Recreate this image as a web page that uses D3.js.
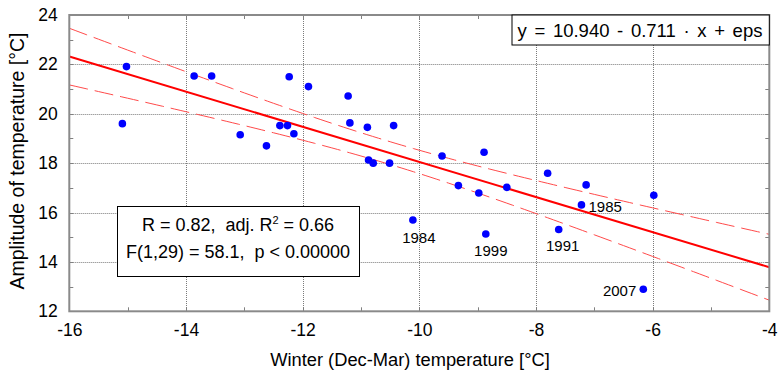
<!DOCTYPE html>
<html>
<head>
<meta charset="utf-8">
<script src="https://cdn.jsdelivr.net/npm/d3@7"></script>
<style>
	body { margin: 0; background: #fff; }
	text { font-family: "Liberation Sans", Arial, sans-serif; fill: #000; white-space: pre; }
</style>
</head>
<body>
<svg id="chart" width="778" height="374"></svg>
<script>

	// winter (Dec-Mar) temperature vs yearly amplitude, 31 years
	var winterTemp = [-15.09, -15.02, -13.86, -13.56, -13.07, -12.62, -12.39, -12.26, -12.23, -12.15,
		-11.90, -11.22, -11.19, -10.89, -10.87, -10.79, -10.51, -10.44, -10.11, -9.61,
		-9.33, -8.98, -8.89, -8.86, -8.50, -7.80, -7.61, -7.22, -7.14, -6.16, -5.98];
	var amplitude = [19.60, 21.91, 21.53, 21.53, 19.15, 18.70, 19.52, 19.52, 21.50, 19.19,
		21.10, 20.72, 19.63, 19.45, 18.13, 18.00, 18.00, 19.52, 15.70, 18.29,
		17.09, 16.79, 18.44, 15.13, 17.02, 17.59, 15.31, 16.31, 17.12, 12.89, 16.70];
	var years = ["", "", "", "", "", "", "", "", "", "",
		"", "", "", "", "", "", "", "", "1984", "",
		"", "", "", "1999", "", "", "1991", "1985", "", "2007", ""];

	var intercept = 10.940;
	var slope = -0.711;
	var xTicks = [-16, -14, -12, -10, -8, -6, -4];
	var yTicks = [12, 14, 16, 18, 20, 22, 24];
	var eqText = "y = 10.940 - 0.711 · x + eps";
	var statLine1 = ["R = 0.82,  adj. R", "2", " = 0.66"];
	var statLine2 = "F(1,29) = 58.1,  p < 0.00000";
	var xTitle = "Winter (Dec-Mar) temperature [°C]";
	var yTitle = "Amplitude of temperature [°C]";

	var pL = 69.3, pR = 769.3, pT = 15, pB = 311.3;
	var pW = pR - pL, pH = pB - pT;

	var svg = d3.select("#chart");

	var x = d3.scaleLinear().domain([-16, -4]).range([pL, pR]);
	var y = d3.scaleLinear().domain([12, 24]).range([pB, pT]);

	svg.append("clipPath").attr("id", "plotclip")
		.append("rect").attr("x", pL).attr("y", pT).attr("width", pW).attr("height", pH);

	// dotted grid
	var grid = svg.append("g").attr("class", "grid");
	grid.selectAll(".gx").data(xTicks.slice(1, -1)).enter().append("line")
		.attr("x1", function (d) { return Math.round(x(d)) + 0.5; })
		.attr("x2", function (d) { return Math.round(x(d)) + 0.5; })
		.attr("y1", pT).attr("y2", pB);
	grid.selectAll(".gy").data(yTicks.slice(1, -1)).enter().append("line")
		.attr("y1", function (d) { return Math.round(y(d)) + 0.5; })
		.attr("y2", function (d) { return Math.round(y(d)) + 0.5; })
		.attr("x1", pL).attr("x2", pR);
	grid.selectAll("line").attr("stroke", "#7a7a7a").attr("stroke-width", 1).attr("stroke-dasharray", "1,1");

	// inward ticks on every integer, all four sides
	var ticks = svg.append("g").attr("stroke", "#808080").attr("stroke-width", 1);
	d3.range(-15, -4).forEach(function (v) {
		var px = Math.round(x(v)) + 0.5;
		ticks.append("line").attr("x1", px).attr("x2", px).attr("y1", pB).attr("y2", pB - 4);
		ticks.append("line").attr("x1", px).attr("x2", px).attr("y1", pT).attr("y2", pT + 4);
	});
	d3.range(13, 24).forEach(function (v) {
		var py = Math.round(y(v)) + 0.5;
		ticks.append("line").attr("y1", py).attr("y2", py).attr("x1", pL).attr("x2", pL + 4);
		ticks.append("line").attr("y1", py).attr("y2", py).attr("x1", pR).attr("x2", pR - 4);
	});

	// confidence band for the fitted line (computed from the points)
	var n = winterTemp.length;
	var xbar = d3.mean(winterTemp);
	var sxx = d3.sum(winterTemp, function (v) { return (v - xbar) * (v - xbar); });
	var sse = d3.sum(winterTemp, function (v, i) {
		var r = amplitude[i] - (intercept + slope * v);
		return r * r;
	});
	var s = Math.sqrt(sse / (n - 2));
	var tcrit = 2.045;
	function half(v) { return tcrit * s * Math.sqrt(1 / n + (v - xbar) * (v - xbar) / sxx); }

	var xs = d3.range(-16, -3.99, 0.1);
	var plot = svg.append("g").attr("clip-path", "url(#plotclip)");

	var line = d3.line().x(function (d) { return x(d[0]); }).y(function (d) { return y(d[1]); });
	[1, -1].forEach(function (sign) {
		plot.append("path")
			.attr("d", line(xs.map(function (v) { return [v, intercept + slope * v + sign * half(v)]; })))
			.attr("fill", "none").attr("stroke", "#ff4a4a").attr("stroke-width", 1)
			.attr("stroke-dasharray", "19,7");
	});
	plot.append("path")
		.attr("d", line([[-16, intercept + slope * -16], [-4, intercept + slope * -4]]))
		.attr("fill", "none").attr("stroke", "#ff0000").attr("stroke-width", 2);

	// points
	plot.selectAll(".pt").data(winterTemp).enter().append("circle")
		.attr("class", "pt")
		.attr("cx", function (d) { return x(d); })
		.attr("cy", function (d, i) { return y(amplitude[i]); })
		.attr("r", 3.8)
		.attr("fill", "#0000ff");

	// year labels
	var placement = {
		"1984": [6, 23, "middle"],
		"1999": [5, 22, "middle"],
		"1991": [4, 21, "middle"],
		"1985": [7, 7, "start"],
		"2007": [-7, 7, "end"]
	};
	winterTemp.forEach(function (v, i) {
		if (!years[i]) return;
		var p = placement[years[i]];
		svg.append("text")
			.attr("x", x(v) + p[0]).attr("y", y(amplitude[i]) + p[1])
			.attr("text-anchor", p[2]).attr("font-size", 15)
			.text(years[i]);
	});

	// frame
	svg.append("rect").attr("x", pL).attr("y", pT).attr("width", pW).attr("height", pH)
		.attr("fill", "none").attr("stroke", "#8a8a8a").attr("stroke-width", 2);

	// axes labels
	var fmt = function (d) { return String(d); };
	var xAxis = d3.axisBottom(x).tickValues(xTicks).tickFormat(fmt).tickSize(0).tickPadding(12.7);
	var gx = svg.append("g").attr("transform", "translate(0," + pB + ")").call(xAxis);
	var yAxis = d3.axisLeft(y).tickValues(yTicks).tickFormat(fmt).tickSize(0).tickPadding(11.5);
	var gy = svg.append("g").attr("transform", "translate(" + pL + ",0)").call(yAxis);
	[gx, gy].forEach(function (g) {
		g.select(".domain").remove();
		g.selectAll("text").attr("font-size", 17.5).attr("font-family", null).attr("fill", "#000");
	});

	svg.append("text").attr("x", 410).attr("y", 366).attr("text-anchor", "middle")
		.attr("font-size", 18.3).text(xTitle);
	svg.append("text").attr("transform", "translate(24,161) rotate(-90)").attr("text-anchor", "middle")
		.attr("font-size", 19.5).text(yTitle);

	// equation box
	svg.append("rect").attr("x", 512).attr("y", 15).attr("width", pR - 512).attr("height", 30)
		.attr("fill", "#fff").attr("stroke", "#000").attr("stroke-width", 1);
	svg.append("text").attr("x", 640).attr("y", 37).attr("text-anchor", "middle")
		.attr("font-size", 18.5).attr("word-spacing", 2.5).text(eqText);

	// stats box
	svg.append("rect").attr("x", 117.5).attr("y", 206.5).attr("width", 242).attr("height", 70)
		.attr("fill", "#fff").attr("stroke", "#000").attr("stroke-width", 1);
	var t1 = svg.append("text").attr("x", 238).attr("y", 231).attr("text-anchor", "middle").attr("font-size", 18);
	t1.append("tspan").text(statLine1[0]);
	t1.append("tspan").attr("dy", -7).attr("font-size", 11).text(statLine1[1]);
	t1.append("tspan").attr("dy", 7).text(statLine1[2]);
	svg.append("text").attr("x", 238).attr("y", 258).attr("text-anchor", "middle").attr("font-size", 18)
		.text(statLine2);

</script>
</body>
</html>
